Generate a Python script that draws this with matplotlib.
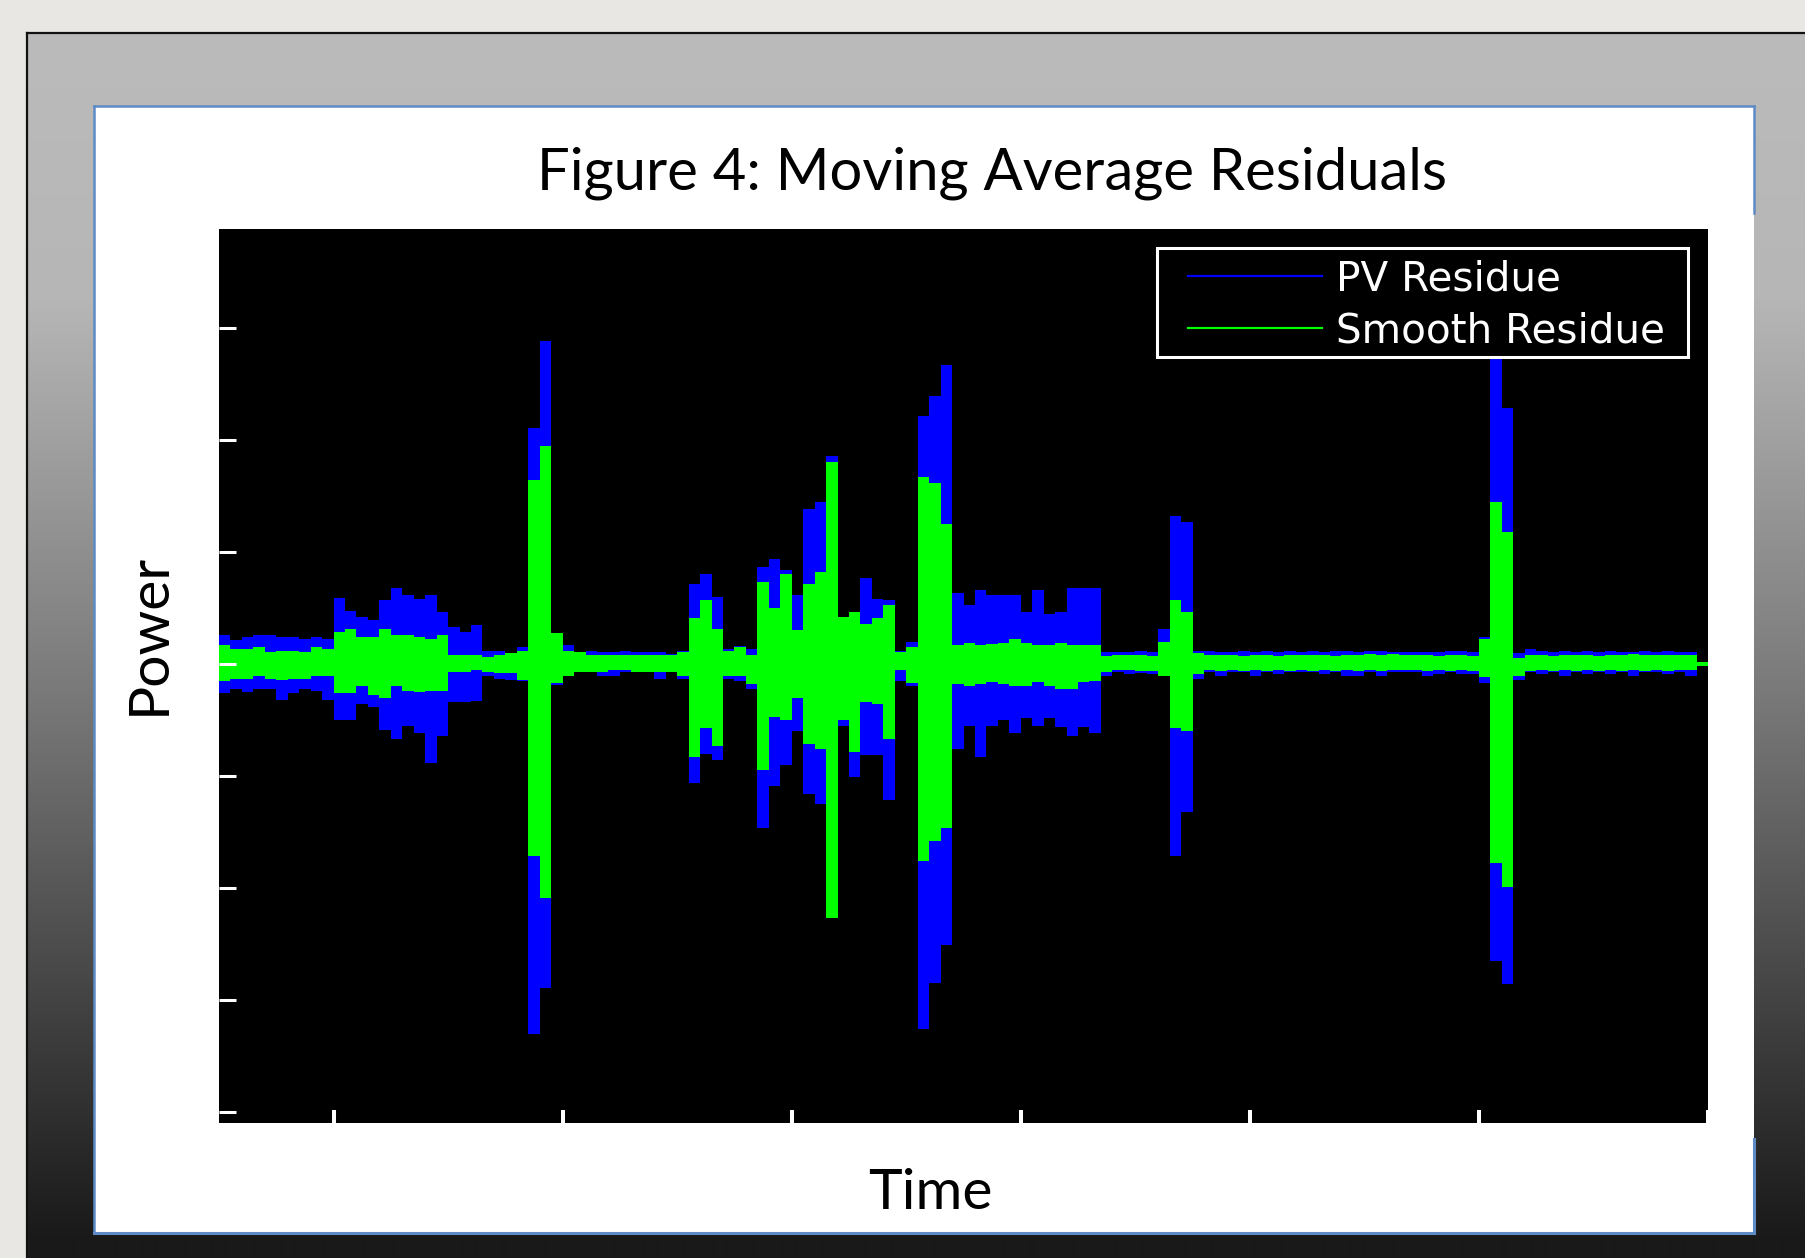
import numpy as np
import matplotlib.pyplot as plt
from matplotlib.patches import Rectangle
from matplotlib.lines import Line2D

# residual envelopes, one value per block of 10 samples (130 blocks, 0..1300)
pv_hi = [0.26, 0.21, 0.24, 0.26, 0.26, 0.24, 0.24, 0.22, 0.24, 0.22,
         0.59, 0.47, 0.42, 0.39, 0.57, 0.68, 0.62, 0.58, 0.62, 0.46,
         0.33, 0.29, 0.35, 0.12, 0.12, 0.10, 0.15, 2.11, 2.88, 0.28,
         0.17, 0.11, 0.12, 0.11, 0.11, 0.12, 0.11, 0.11, 0.11, 0.09,
         0.12, 0.71, 0.80, 0.60, 0.13, 0.16, 0.13, 0.87, 0.94, 0.84,
         0.62, 1.38, 1.45, 1.86, 0.42, 0.46, 0.77, 0.58, 0.57, 0.12,
         0.20, 2.21, 2.39, 2.67, 0.63, 0.53, 0.66, 0.62, 0.62, 0.62,
         0.46, 0.66, 0.45, 0.46, 0.68, 0.68, 0.68, 0.11, 0.11, 0.11,
         0.12, 0.11, 0.31, 1.32, 1.27, 0.12, 0.12, 0.11, 0.11, 0.12,
         0.11, 0.12, 0.11, 0.12, 0.11, 0.12, 0.11, 0.12, 0.12, 0.11,
         0.12, 0.12, 0.11, 0.11, 0.11, 0.11, 0.11, 0.12, 0.12, 0.11,
         0.24, 2.73, 2.29, 0.10, 0.13, 0.12, 0.11, 0.12, 0.11, 0.12,
         0.11, 0.12, 0.11, 0.11, 0.12, 0.11, 0.12, 0.11, 0.11, 0.02]
pv_lo = [-0.26, -0.22, -0.25, -0.22, -0.22, -0.32, -0.26, -0.22, -0.24, -0.32,
         -0.50, -0.50, -0.36, -0.38, -0.59, -0.67, -0.55, -0.62, -0.88, -0.64,
         -0.34, -0.34, -0.33, -0.11, -0.13, -0.14, -0.15, -3.30, -2.89, -0.19,
         -0.11, -0.07, -0.07, -0.11, -0.11, -0.07, -0.07, -0.07, -0.13, -0.07,
         -0.13, -1.06, -0.80, -0.86, -0.13, -0.15, -0.22, -1.46, -1.09, -0.90,
         -0.60, -1.16, -1.25, -1.10, -0.55, -1.01, -0.81, -0.81, -1.21, -0.15,
         -0.20, -3.26, -2.85, -2.51, -0.76, -0.55, -0.83, -0.55, -0.50, -0.62,
         -0.48, -0.55, -0.48, -0.56, -0.64, -0.56, -0.62, -0.11, -0.07, -0.09,
         -0.08, -0.09, -0.11, -1.71, -1.32, -0.13, -0.07, -0.11, -0.07, -0.07,
         -0.11, -0.07, -0.09, -0.07, -0.07, -0.07, -0.09, -0.07, -0.11, -0.11,
         -0.07, -0.11, -0.07, -0.07, -0.07, -0.11, -0.09, -0.07, -0.09, -0.09,
         -0.17, -2.65, -2.86, -0.14, -0.07, -0.09, -0.07, -0.11, -0.07, -0.09,
         -0.07, -0.09, -0.07, -0.11, -0.07, -0.07, -0.09, -0.07, -0.11, -0.02]
sm_hi = [0.17, 0.13, 0.13, 0.15, 0.11, 0.12, 0.12, 0.11, 0.15, 0.13,
         0.29, 0.31, 0.24, 0.24, 0.31, 0.26, 0.26, 0.24, 0.22, 0.26,
         0.08, 0.08, 0.08, 0.06, 0.08, 0.10, 0.12, 1.64, 1.95, 0.28,
         0.12, 0.11, 0.08, 0.08, 0.08, 0.08, 0.08, 0.08, 0.08, 0.08,
         0.11, 0.41, 0.57, 0.31, 0.12, 0.15, 0.08, 0.73, 0.50, 0.80,
         0.30, 0.71, 0.82, 1.80, 0.42, 0.46, 0.36, 0.41, 0.53, 0.11,
         0.15, 1.67, 1.62, 1.25, 0.17, 0.19, 0.17, 0.18, 0.19, 0.22,
         0.19, 0.17, 0.17, 0.19, 0.17, 0.17, 0.17, 0.07, 0.08, 0.08,
         0.08, 0.07, 0.20, 0.57, 0.46, 0.10, 0.08, 0.08, 0.08, 0.07,
         0.08, 0.08, 0.07, 0.08, 0.08, 0.08, 0.08, 0.07, 0.08, 0.08,
         0.09, 0.08, 0.09, 0.08, 0.08, 0.08, 0.07, 0.08, 0.08, 0.07,
         0.22, 1.45, 1.18, 0.05, 0.08, 0.08, 0.07, 0.08, 0.08, 0.08,
         0.07, 0.08, 0.08, 0.09, 0.08, 0.08, 0.08, 0.08, 0.08, 0.02]
sm_lo = [-0.15, -0.13, -0.13, -0.11, -0.13, -0.14, -0.13, -0.13, -0.11, -0.11,
         -0.26, -0.26, -0.20, -0.28, -0.30, -0.20, -0.24, -0.25, -0.24, -0.24,
         -0.07, -0.07, -0.05, -0.07, -0.08, -0.08, -0.14, -1.71, -2.09, -0.17,
         -0.11, -0.07, -0.07, -0.07, -0.05, -0.05, -0.07, -0.07, -0.07, -0.07,
         -0.11, -0.83, -0.57, -0.73, -0.11, -0.11, -0.18, -0.95, -0.47, -0.50,
         -0.30, -0.71, -0.76, -2.27, -0.50, -0.79, -0.34, -0.36, -0.67, -0.05,
         -0.17, -1.76, -1.58, -1.46, -0.18, -0.20, -0.18, -0.16, -0.18, -0.20,
         -0.20, -0.16, -0.20, -0.22, -0.22, -0.16, -0.15, -0.07, -0.05, -0.05,
         -0.06, -0.06, -0.11, -0.57, -0.60, -0.09, -0.05, -0.06, -0.05, -0.06,
         -0.05, -0.06, -0.05, -0.06, -0.05, -0.06, -0.05, -0.06, -0.05, -0.06,
         -0.05, -0.06, -0.05, -0.05, -0.05, -0.06, -0.05, -0.06, -0.05, -0.06,
         -0.12, -1.78, -1.99, -0.11, -0.06, -0.05, -0.06, -0.05, -0.06, -0.05,
         -0.06, -0.05, -0.06, -0.05, -0.06, -0.05, -0.06, -0.05, -0.05, -0.02]
series_labels = ["PV Residue", "Smooth Residue"]
series_colors = ["#0000FF", "#00FF00"]
block = 10

W, H = 1805, 1258
fig = plt.figure(figsize=(W / 100, H / 100), dpi=100, facecolor="#E9E7E4")

# slide backdrop, drawn in pixel coordinates
bg = fig.add_axes([0, 0, 1, 1])
ys = np.arange(33, H)
shade = np.interp(ys, [33, 300, 700, 1240], [187, 182, 120, 25]) / 255
img = np.repeat(shade[:, None], 2, axis=1)[:, :, None] * np.ones(3)
bg.imshow(img, extent=(27, W, H, 33), aspect="auto", interpolation="bilinear")
bg.plot([27, 27], [H, 33], color="#111111", lw=1.6)
bg.plot([27, W], [33, 33], color="#111111", lw=1.6)
bg.add_patch(Rectangle((94, 106), 1754 - 94, 1233 - 106, facecolor="white", lw=0))
edge = "#5E8BC6"
bg.plot([94, 1754], [106, 106], color=edge, lw=1.8)
bg.plot([94, 1754], [1233, 1233], color=edge, lw=2.2)
bg.plot([94, 94], [106, 1233], color=edge, lw=1.8)
bg.plot([1754, 1754], [106, 213], color=edge, lw=1.8)
bg.plot([1754, 1754], [1139, 1233], color=edge, lw=2.2)
bg.set_xlim(0, W)
bg.set_ylim(H, 0)
bg.axis("off")

fig.text(992 / W, 1 - 190 / H, "Figure 4: Moving Average Residuals",
         family="Lato", size=41.8, ha="center", va="baseline")
fig.text(930 / W, 1 - 1209 / H, "Time", family="Lato", size=41,
         ha="center", va="baseline")
fig.text(149 / W, 1 - 634 / H, "Power", family="Lato", size=41,
         rotation=90, ha="center", va="center")

# plot area
ax = fig.add_axes([219 / W, 1 - 1123 / H, (1708 - 219) / W, (1123 - 229) / H])
ax.set_facecolor("black")
edges = np.arange(len(pv_hi) + 1) * block
for hi, lo, c in [(pv_hi, pv_lo, series_colors[0]), (sm_hi, sm_lo, series_colors[1])]:
    ax.fill_between(edges, hi + hi[-1:], lo + lo[-1:], step="post", color=c, lw=0)

ax.set_xlim(0, len(pv_hi) * block)
ax.set_ylim(-4.098, 3.884)
ax.set_xticks(np.arange(100, 1301, 200))
ax.set_yticks(np.arange(-4, 4))
ax.tick_params(labelleft=False, labelbottom=False, direction="in", color="white")
ax.tick_params(axis="y", length=12.2, width=2.2)
ax.tick_params(axis="x", length=9.4, width=2.9)
for s in ax.spines.values():
    s.set_visible(False)

# legend: white-edged black box, entries laid out by matplotlib
box = Rectangle((1157, 248), 531, 109, transform=bg.transData, facecolor="black",
                edgecolor="white", lw=2.2, zorder=4, clip_on=False)
ax.add_patch(box)
handles = [Line2D([], [], color=c, lw=1.6) for c in series_colors]
ax.legend(handles, series_labels, loc="upper left",
          bbox_to_anchor=((1188 - 219) / 1489, (1123 - 259) / 894),
          frameon=False, borderpad=0, borderaxespad=0, handlelength=3.3,
          handletextpad=0.36, labelspacing=0.3, labelcolor="white",
          prop={"family": "DejaVu Sans", "size": 29.2})

fig.savefig("out.png", dpi=100, facecolor=fig.get_facecolor())
